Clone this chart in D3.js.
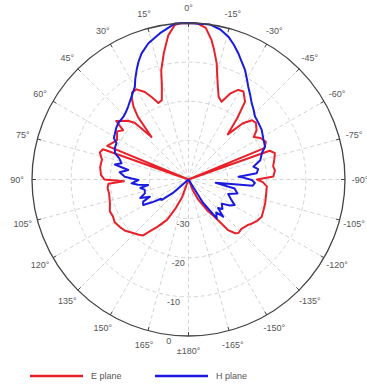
<!DOCTYPE html>
<html>
<head>
<meta charset="utf-8">
<script src="https://cdn.jsdelivr.net/npm/d3@7"></script>
<style>
html,body{margin:0;padding:0;background:#fff;}
svg{display:block;font-family:"Liberation Sans",Arial,sans-serif;}
</style>
</head>
<body>
<svg id="chart" width="367" height="385"></svg>
<script>
// ---- data (angle in degrees, positive = counter-clockwise from top; gain in dB) ----
const eAngles = [-180,-165,-158,-154,-149,-145,-142,-139,-137,-133,-130,-127,-125,-121,-117,-112,-107,-101,-95,-92,-90,-88,-84,-81,-77,-73,-70.5,-69,-67.5,-64,-60,-57,-54,-50,-47,-44,-41,-38.5,-36,-32,-29,-26,-23,-20,-17,-13.6,-11,-9.4,-6.5,-3,0,3,5,8,11,14,16,18.6,21.5,24,26.5,30,33,35,37,39,41,43.5,46,51,53,56,61,64,67.5,69,70.5,73,77,82,87,90,91.5,93,96,100,107,112,116,120,125,129,134,138,141,144,146.5,152,156,160,165,180];
const eGain   = [-40,-40,-37,-34.2,-31,-28.3,-23.6,-21.8,-21.3,-21.5,-21.2,-20.8,-20.3,-19.5,-19,-19.3,-19.5,-19.8,-19.9,-21,-22.5,-18.3,-17.8,-18.1,-17.5,-16.9,-18,-40,-19,-18,-18.8,-20.1,-18.5,-17.5,-17.8,-20,-24.7,-20,-15.4,-13.5,-13.8,-15.5,-18.4,-17.5,-14.5,-9.4,-6,-3.9,-1,0,0,0,-0.3,-2.8,-7,-11.2,-15.3,-18.6,-19,-17,-15,-13.4,-13.5,-14.8,-16.6,-19.5,-25.6,-20,-18.4,-16.2,-19.1,-18,-19.1,-18.5,-17.5,-40,-16.8,-16.3,-17.3,-17.2,-17.6,-18.5,-23.5,-19.5,-19.2,-19.4,-19,-18.3,-18.5,-18.2,-18.7,-19.2,-20.3,-21,-21.6,-24,-25.4,-28.3,-32,-35.2,-40,-40];

const hAngles = [-180,-152,-148,-144,-140,-137,-134,-131,-126,-122,-119,-115,-110,-106,-101,-97,-95.5,-93,-90.5,-88,-86.8,-84.8,-81.5,-78.8,-75,-70.3,-66.8,-62,-55.9,-51,-46.6,-43,-39.7,-36,-32.8,-30,-27.3,-24,-21.5,-18.5,-15.6,-12,-8,0,5,7,11,13.5,16.4,20.4,23,25.3,28,30,34.5,39.6,43,46,51.3,54.5,57.8,61,63.2,67,70.4,73,76.4,78.5,81,84,87.5,89,90.6,93.8,96,97.8,100,103,107.6,111,114,116,119.4,122,125,127.4,131,136,180];
const hGain   = [-40,-40,-33,-27.7,-29,-27,-29.5,-28.5,-29.5,-27.5,-26.5,-28,-29.2,-27,-28,-33,-23.5,-23,-23.8,-26,-27.2,-22.5,-22,-23.1,-21,-20.1,-18.7,-18.3,-17.4,-17,-16.6,-15.6,-14.7,-13.2,-11.8,-10.2,-8.5,-6.8,-5.3,-3.6,-2.1,-0.8,0,0,0,-0.7,-1.9,-2.8,-3.7,-5.6,-7.3,-9,-11,-12.6,-14.3,-15.8,-16.5,-16.9,-17,-17.3,-17.8,-18.2,-19.4,-19.5,-20.1,-21.5,-22.4,-20.8,-24.4,-22.3,-23.7,-25.5,-27.2,-25.4,-27,-29.6,-27.5,-28.5,-28.3,-26.8,-29.2,-27.1,-26.7,-29,-31.4,-31.4,-35,-40,-40];

const angleTicks = [0,15,30,45,60,75,90,105,120,135,150,165,180,-165,-150,-135,-120,-105,-90,-75,-60,-45,-30,-15];
const radialTicks = [-30,-20,-10,0];
const seriesNames = ["E plane","H plane"];
const seriesColors = ["#e8202a","#1a1ae0"];

// ---- layout ----
const cx = 188.5, cy = 179.5, R = 156.5;
const svg = d3.select("#chart");
const g = svg.append("g").attr("transform",`translate(${cx},${cy})`);
const r = d3.scaleLinear().domain([-40,0]).range([0,R]).clamp(true);
const toRad = d => -d*Math.PI/180; // CCW positive -> d3 clockwise angle

// grid circles
g.selectAll("circle.grid").data(radialTicks.filter(d=>d<0)).enter().append("circle")
  .attr("r",d=>r(d)).attr("fill","none").attr("stroke","#c8c8c8").attr("stroke-width",0.8)
  .attr("stroke-dasharray","4,3");
// spokes
g.selectAll("line.spoke").data(angleTicks).enter().append("line")
  .attr("x1",0).attr("y1",0)
  .attr("x2",d=>R*Math.sin(toRad(d))).attr("y2",d=>-R*Math.cos(toRad(d)))
  .attr("stroke","#c8c8c8").attr("stroke-width",0.8).attr("stroke-dasharray","4,3");

// curves
const line = d3.lineRadial().angle(d=>toRad(d[0])).radius(d=>r(d[1])).curve(d3.curveLinear);
const eData = eAngles.map((a,i)=>[a,eGain[i]]);
const hData = hAngles.map((a,i)=>[a,hGain[i]]);
[eData,hData].forEach((dat,i)=>{
  g.append("path").datum(dat).attr("d",line).attr("fill","none")
   .attr("stroke",seriesColors[i]).attr("stroke-width",2).attr("stroke-linejoin","round");
});

// outer circle
g.append("circle").attr("r",R).attr("fill","none").attr("stroke","#444").attr("stroke-width",1.3);
g.selectAll("line.tick").data(angleTicks).enter().append("line")
  .attr("x1",d=>R*Math.sin(toRad(d))).attr("y1",d=>-R*Math.cos(toRad(d)))
  .attr("x2",d=>(R-4)*Math.sin(toRad(d))).attr("y2",d=>-(R-4)*Math.cos(toRad(d)))
  .attr("stroke","#444").attr("stroke-width",1);

// angle labels
const lr = 171.5;
g.selectAll("text.ang").data(angleTicks).enter().append("text")
  .attr("x",d=>lr*Math.sin(toRad(d))).attr("y",d=>-lr*Math.cos(toRad(d)))
  .attr("text-anchor","middle").attr("dominant-baseline","central")
  .attr("font-size",9).attr("fill","#555")
  .text(d=>d===180?"±180°":d+"°");

// radial labels
const la = toRad(173);
g.selectAll("text.rad").data(radialTicks).enter().append("text")
  .attr("x",d=>(r(d)+6)*Math.sin(la)).attr("y",d=>-(r(d)+6)*Math.cos(la))
  .attr("text-anchor","middle").attr("dominant-baseline","central")
  .attr("font-size",9).attr("fill","#555")
  .text(d=>d);

// legend
const leg = svg.append("g");
const legX = [30,155];
seriesNames.forEach((n,i)=>{
  leg.append("line").attr("x1",legX[i]).attr("x2",legX[i]+53).attr("y1",376).attr("y2",376)
    .attr("stroke",seriesColors[i]).attr("stroke-width",2.5);
  leg.append("text").attr("x",legX[i]+61).attr("y",376).attr("dominant-baseline","central")
    .attr("font-size",9).attr("fill","#555").text(n);
});
</script>
</body>
</html>
